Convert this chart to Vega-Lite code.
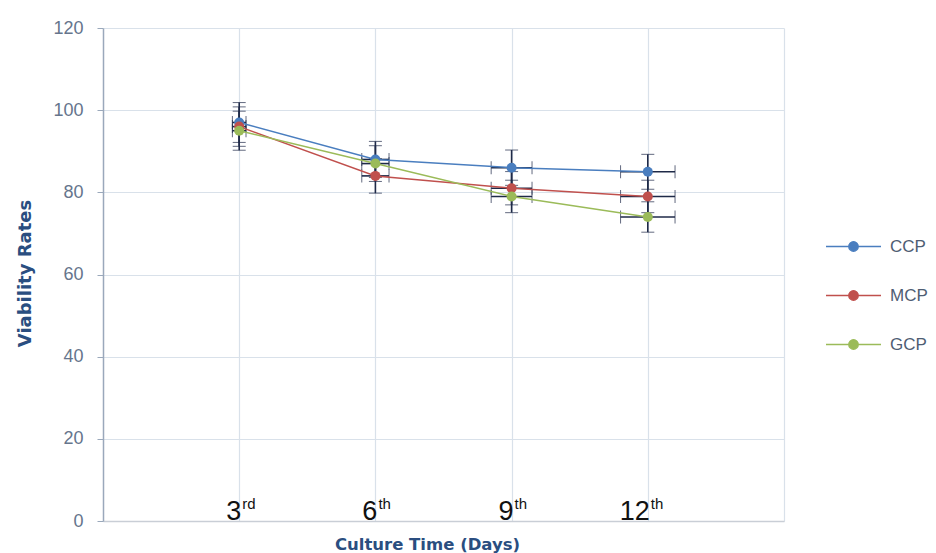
{
  "$schema": "https://vega.github.io/schema/vega-lite/v6.json",
  "autosize": {"type": "none"},
  "padding": {"left": 103, "top": 28, "right": 152, "bottom": 32},
  "width": 681,
  "height": 493,
  "background": "white",
  "config": {
    "view": {"stroke": null},
    "font": "Liberation Sans"
  },
  "datasets": {
    "viab": [
      {"series": "CCP", "day": 3, "value": 97, "yerr": 4.85, "xerr": 0.15},
      {"series": "CCP", "day": 6, "value": 88, "yerr": 4.4, "xerr": 0.3},
      {"series": "CCP", "day": 9, "value": 86, "yerr": 4.3, "xerr": 0.45},
      {"series": "CCP", "day": 12, "value": 85, "yerr": 4.25, "xerr": 0.6},
      {"series": "MCP", "day": 3, "value": 96, "yerr": 4.8, "xerr": 0.15},
      {"series": "MCP", "day": 6, "value": 84, "yerr": 4.2, "xerr": 0.3},
      {"series": "MCP", "day": 9, "value": 81, "yerr": 4.05, "xerr": 0.45},
      {"series": "MCP", "day": 12, "value": 79, "yerr": 3.95, "xerr": 0.6},
      {"series": "GCP", "day": 3, "value": 95, "yerr": 4.75, "xerr": 0.15},
      {"series": "GCP", "day": 6, "value": 87, "yerr": 4.35, "xerr": 0.3},
      {"series": "GCP", "day": 9, "value": 79, "yerr": 3.95, "xerr": 0.45},
      {"series": "GCP", "day": 12, "value": 74, "yerr": 3.7, "xerr": 0.6}
    ],
    "labels": [
      {"day": 3, "base": 0, "num": "3", "sup": "rd"},
      {"day": 6, "base": 0, "num": "6", "sup": "th"},
      {"day": 9, "base": 0, "num": "9", "sup": "th"},
      {"day": 12, "base": 0, "num": "12", "sup": "th"}
    ]
  },
  "layer": [
    {
      "data": {"name": "viab"},
      "mark": {"type": "errorbar", "ticks": {"size": 13, "color": "#1f2a48", "strokeWidth": 1.6}, "rule": {"color": "#1f2a48", "strokeWidth": 1.6}},
      "encoding": {
        "x": {
          "field": "day", "type": "quantitative", "title": "Culture Time (Days)",
          "scale": {"domain": [0, 15], "nice": false, "zero": true},
          "axis": {
            "values": [3, 6, 9, 12, 15],
            "labels": false, "ticks": false,
            "grid": true, "gridColor": "#d9e1ea", "gridWidth": 1.2,
            "domainColor": "#c9ced6", "domainWidth": 1.5,
            "title": "Culture Time (Days)",
            "titleFont": "DejaVu Sans", "titleFontSize": 16.5, "titleFontWeight": "bold",
            "titleColor": "#2a4e80", "titleX": 324, "titleY": 23, "titleBaseline": "middle"
          }
        },
        "y": {
          "field": "value", "type": "quantitative", "title": "Viability Rates",
          "scale": {"domain": [0, 120], "nice": false},
          "axis": {
            "values": [0, 20, 40, 60, 80, 100, 120],
            "grid": true, "gridColor": "#d9e1ea", "gridWidth": 1.2,
            "domainColor": "#9aa8bb", "domainWidth": 1.5,
            "tickColor": "#9aa8bb", "tickSize": 6,
            "labelFontSize": 18, "labelColor": "#66758c", "labelPadding": 14,
            "title": "Viability Rates",
            "titleFont": "DejaVu Sans", "titleFontSize": 18, "titleFontWeight": "bold",
            "titleColor": "#2a4e80", "titleX": -78, "titleY": 245, "titleBaseline": "middle"
          }
        },
        "yError": {"field": "yerr"}
      }
    },
    {
      "data": {"name": "viab"},
      "mark": {"type": "errorbar", "ticks": {"size": 13, "color": "#1f2a48", "strokeWidth": 1.6}, "rule": {"color": "#1f2a48", "strokeWidth": 1.6}},
      "encoding": {
        "x": {"field": "day", "type": "quantitative", "title": "Culture Time (Days)"},
        "xError": {"field": "xerr"},
        "y": {"field": "value", "type": "quantitative", "title": "Viability Rates"}
      }
    },
    {
      "data": {"name": "viab"},
      "mark": {"type": "line", "strokeWidth": 1.5, "point": {"filled": true, "size": 100, "opacity": 1}},
      "encoding": {
        "x": {"field": "day", "type": "quantitative", "title": "Culture Time (Days)"},
        "y": {"field": "value", "type": "quantitative", "title": "Viability Rates"},
        "color": {
          "field": "series", "type": "nominal",
          "scale": {"domain": ["CCP", "MCP", "GCP"], "range": ["#4a7ebf", "#c0504d", "#9bbb59"]},
          "legend": {
            "orient": "none", "legendX": 722, "legendY": 190,
            "title": null,
            "symbolType": "M-1,0L1,0M0.17,0A0.17,0.17,0,1,1,-0.17,0A0.17,0.17,0,1,1,0.17,0Z",
            "symbolSize": 3025, "symbolStrokeWidth": 1.5,
            "labelFontSize": 17, "labelColor": "#4f5d73", "labelOffset": 8,
            "rowPadding": 12,
            "encode": {"symbols": {"update": {"fill": {"scale": "color", "field": "value"}, "stroke": {"scale": "color", "field": "value"}, "opacity": {"value": 1}}}}
          }
        },
        "order": {"field": "day"}
      }
    },
    {
      "data": {"name": "labels"},
      "mark": {"type": "text", "align": "right", "baseline": "alphabetic", "dx": 2, "dy": -1, "fontSize": 27, "color": "#111111", "font": "Liberation Sans"},
      "encoding": {
        "x": {"field": "day", "type": "quantitative"},
        "y": {"field": "base", "type": "quantitative"},
        "text": {"field": "num"}
      }
    },
    {
      "data": {"name": "labels"},
      "mark": {"type": "text", "align": "left", "baseline": "alphabetic", "dx": 3, "dy": -12, "fontSize": 15, "color": "#111111", "font": "Liberation Sans"},
      "encoding": {
        "x": {"field": "day", "type": "quantitative"},
        "y": {"field": "base", "type": "quantitative"},
        "text": {"field": "sup"}
      }
    }
  ]
}
